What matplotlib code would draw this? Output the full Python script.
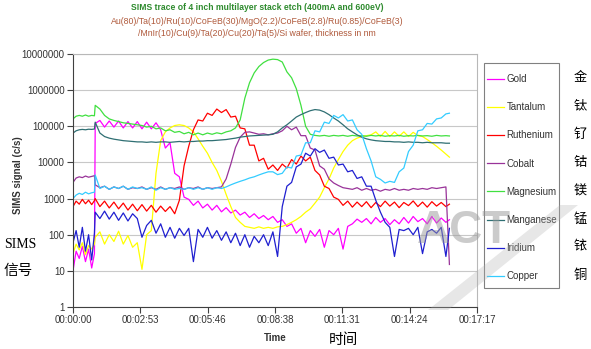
import matplotlib
matplotlib.use("Agg")
import matplotlib.pyplot as plt
import matplotlib.patches as mpatches
from matplotlib.ticker import FuncFormatter, NullLocator
import numpy as np

plt.rcParams["font.family"] = ["Liberation Sans", "DejaVu Sans"]

# --- sampling times (s) ---
time_s = np.r_[np.arange(0, 56, 8), 55, np.arange(57, 958, 12), 966]

# --- SIMS counts (c/s) ---
gold = [10, 35, 22, 48, 18, 40, 12, 30,
        1.2e5, 1.45e5, 9.5e4, 1.4e5, 9.5e4, 1.4e5, 9e4, 1.35e5, 9e4, 1.35e5,
        8.5e4, 1.3e5, 8.5e4, 1.25e5, 8e4, 2.5e4, 3.5e4, 5e3, 4e3, 1.1e3,
        950, 650, 850, 550, 700, 480, 650, 430, 560, 400,
        480, 350, 420, 300, 380, 280, 340, 260, 320, 220,
        260, 170, 200, 110, 150, 60, 130, 90, 140, 45,
        130, 100, 150, 40, 170, 200, 270, 220, 280, 200,
        300, 220, 280, 190, 260, 200, 300, 210, 320, 230,
        280, 200, 320, 210, 290, 220, 260]
tantalum = [30, 55, 38, 60, 28, 50, 40, 55,
            85, 120, 55, 100, 65, 125, 55, 95, 45, 60,
            11, 100, 130, 5e3, 4e4, 7e4, 9e4, 1.05e5, 1.1e5, 1.05e5,
            9e4, 7e4, 4.5e4, 2.8e4, 1.8e4, 1e4, 6e3, 3e3, 1.3e3, 600,
            300, 220, 170, 160, 150, 165, 150, 160, 150, 165,
            170, 190, 220, 260, 320, 420, 520, 750, 1.1e3, 2e3,
            3.5e3, 7e3, 1.2e4, 2e4, 3e4, 4e4, 4.7e4, 5.2e4, 5.5e4, 5.8e4,
            7e4, 5.2e4, 7.2e4, 5.2e4, 7e4, 5.3e4, 7e4, 5.2e4, 6.8e4, 5.5e4,
            5.2e4, 4.3e4, 3.5e4, 2.8e4, 2.2e4, 1.7e4, 1.4e4]
ruthenium = [600, 850, 700, 950, 720, 900, 680, 880,
             1000, 600, 850, 550, 800, 520, 750, 480, 700, 460,
             680, 450, 650, 420, 620, 440, 600, 380, 900, 8e3,
             2.8e4, 8e4, 1.5e5, 1.4e5, 2.3e5, 2e5, 3e5, 2.4e5, 2.9e5, 1.8e5,
             1.9e5, 9e4, 8.5e4, 3e4, 3e4, 1.1e4, 1.3e4, 6.5e3, 8.5e3, 6e3,
             9e3, 7e3, 1.2e4, 9e3, 1.5e4, 1.1e4, 1.4e4, 6e3, 4.5e3, 2.2e3,
             1.9e3, 1.1e3, 950, 650, 850, 580, 800, 600, 820, 560,
             780, 600, 850, 620, 800, 560, 780, 640, 860, 600,
             800, 580, 820, 620, 780, 600, 700]
cobalt = [2.8e3, 3.7e3, 4e3, 3.8e3, 4.2e3, 3.9e3, 4.1e3, 4.3e3,
          2.4e3, 2.0e3, 2.2e3, 1.8e3, 2.1e3, 1.9e3, 2.2e3, 1.8e3, 2.0e3, 1.9e3,
          2.1e3, 1.8e3, 2.0e3, 1.8e3, 2.1e3, 1.8e3, 2.0e3, 1.9e3, 2.1e3, 1.8e3,
          2.0e3, 1.9e3, 2.1e3, 1.8e3, 2.0e3, 1.9e3, 2.0e3, 2.1e3, 3.5e3, 9e3,
          2.6e4, 5e4, 6.8e4, 7e4, 6.5e4, 6e4, 6.2e4, 5.8e4, 6.2e4, 6.5e4,
          7.5e4, 1.0e5, 8e4, 9.5e4, 5.5e4, 5.5e4, 2.5e4, 2.2e4, 8e3, 6.5e3,
          3.5e3, 2.7e3, 2.3e3, 2.0e3, 1.9e3, 1.8e3, 2.0e3, 1.7e3, 1.9e3, 1.7e3,
          1.8e3, 1.6e3, 1.8e3, 1.7e3, 1.9e3, 1.7e3, 1.8e3, 1.7e3, 1.9e3, 1.8e3,
          1.9e3, 1.8e3, 2.0e3, 1.9e3, 2.0e3, 2.1e3, 15]
magnesium = [1.6e5, 1.9e5, 2.0e5, 1.9e5, 2.05e5, 1.9e5, 2.0e5, 1.95e5,
             3.8e5, 3.0e5, 2.0e5, 1.6e5, 1.45e5, 1.35e5, 1.25e5, 1.2e5, 1.15e5, 1.1e5,
             1.05e5, 9.5e4, 1.0e5, 8.5e4, 9e4, 7.5e4, 8e4, 6.8e4, 7.2e4, 6.2e4,
             6.8e4, 5.8e4, 6.5e4, 5.8e4, 6.5e4, 6e4, 6.6e4, 6.2e4, 7e4, 7.5e4,
             9e4, 1.5e5, 6e5, 1.6e6, 3e6, 4.5e6, 5.8e6, 6.8e6, 7.2e6, 7e6,
             6e6, 3.2e6, 2.2e6, 1.1e6, 3.8e5, 1e5, 6e4, 5.6e4, 5.4e4, 5.6e4,
             5.3e4, 5.6e4, 5.4e4, 5.6e4, 5.3e4, 5.6e4, 5.4e4, 5.5e4, 5.3e4, 5.6e4,
             5.4e4, 5.6e4, 5.3e4, 5.5e4, 5.4e4, 5.6e4, 5.3e4, 5.5e4, 5.4e4, 5.6e4,
             5.4e4, 5.5e4, 5.3e4, 5.6e4, 5.4e4, 5.5e4, 5.4e4]
manganese = [6.5e4, 7.5e4, 8e4, 8.2e4, 8e4, 8.3e4, 8.2e4, 8.4e4,
             1.3e5, 6.5e4, 5.2e4, 4.7e4, 4.4e4, 4.2e4, 4.0e4, 3.9e4, 3.8e4, 3.7e4,
             3.7e4, 3.6e4, 3.7e4, 3.6e4, 3.7e4, 3.7e4, 3.6e4, 3.7e4, 3.8e4, 3.7e4,
             3.8e4, 3.8e4, 3.9e4, 3.9e4, 4e4, 4e4, 4.1e4, 4.2e4, 4.3e4, 4.5e4,
             4.7e4, 5e4, 5.2e4, 5.4e4, 5.5e4, 5.6e4, 5.7e4, 5.8e4, 6e4, 7e4,
             9e4, 1.1e5, 1.4e5, 1.8e5, 2.1e5, 2.4e5, 2.7e5, 2.9e5, 2.8e5, 2.5e5,
             2.1e5, 1.7e5, 1.4e5, 1.1e5, 8.5e4, 7e4, 5.8e4, 5e4, 4.5e4, 4.2e4,
             4e4, 3.9e4, 3.8e4, 3.8e4, 3.7e4, 3.7e4, 3.6e4, 3.7e4, 3.6e4, 3.6e4,
             3.5e4, 3.6e4, 3.5e4, 3.5e4, 3.5e4, 3.4e4, 3.4e4]
iridium = [60, 130, 45, 160, 35, 100, 20, 110,
           420, 280, 450, 270, 420, 250, 400, 240, 380, 280,
           85, 180, 250, 110, 200, 85, 160, 80, 150, 95,
           150, 18, 140, 85, 160, 80, 130, 70, 120, 60,
           110, 50, 100, 45, 90, 60, 100, 50, 120, 25,
           600, 2.2e3, 2.8e3, 7.5e3, 9e3, 1.8e4, 1.5e4, 2.4e4, 1.9e4, 2.2e4,
           1.3e4, 1.4e4, 8.5e3, 9e3, 5.5e3, 6e3, 3.6e3, 4e3, 2.2e3, 2.2e3,
           900, 420, 220, 160, 25, 140, 130, 150, 100, 160,
           30, 120, 140, 110, 160, 25, 150]
copper = [1.0e3, 1.25e3, 1.4e3, 1.3e3, 1.5e3, 1.35e3, 1.45e3, 1.5e3,
          4.5e3, 1.9e3, 2.2e3, 1.8e3, 2.1e3, 1.9e3, 2.2e3, 1.8e3, 2.1e3, 1.9e3,
          2.0e3, 1.8e3, 2.1e3, 1.7e3, 2.0e3, 1.8e3, 2.0e3, 1.8e3, 1.9e3, 1.8e3,
          2.0e3, 1.8e3, 2.0e3, 1.8e3, 2.0e3, 1.8e3, 2.0e3, 1.9e3, 2.1e3, 2.4e3,
          2.7e3, 3.0e3, 3.3e3, 3.7e3, 4.0e3, 4.5e3, 5.0e3, 5.5e3, 5.5e3, 4.6e3,
          5e3, 7.5e3, 7e3, 1.5e4, 1.6e4, 3.5e4, 3.5e4, 7.5e4, 7e4, 1.3e5,
          1.2e5, 2e5, 1.7e5, 2.1e5, 1.4e5, 1.5e5, 8e4, 6e4, 2.4e4, 1.1e4,
          4e3, 3.4e3, 2.7e3, 3e3, 2.8e3, 5.5e3, 7e3, 2e4, 3e4, 7.5e4,
          8e4, 1.2e5, 1.15e5, 1.6e5, 1.7e5, 2.2e5, 2.3e5]

labels = ["Gold", "Tantalum", "Ruthenium", "Cobalt",
          "Magnesium", "Manganese", "Iridium", "Copper"]
labels_cn = ["金", "钛", "钌", "钴", "镁", "锰", "铱", "铜"]
series = [gold, tantalum, ruthenium, cobalt, magnesium, manganese, iridium, copper]
colors = ["#ff00ff", "#ffff00", "#ff0000", "#993399",
          "#40e040", "#2f6f73", "#1f1fd0", "#33ccff"]

xtick_s = [0, 172.8, 345.6, 518.4, 691.2, 864, 1036.8]
xtick_labels = ["00:00:00", "00:02:53", "00:05:46", "00:08:38",
                "00:11:31", "00:14:24", "00:17:17"]
ytick_vals = [1, 10, 100, 1000, 10000, 100000, 1000000, 10000000]

W, H = 591, 349
fig = plt.figure(figsize=(W / 100, H / 100), dpi=100)
fig.patch.set_facecolor("white")
ax = fig.add_axes([73 / W, 42 / H, 404 / W, 253 / H])

lines = []
for vals, lab, col in zip(series, labels, colors):
    ln, = ax.plot(time_s, vals, color=col, lw=0.9, label=lab)
    lines.append(ln)

ax.set_yscale("log")
ax.set_ylim(1, 1e7)
ax.set_xlim(0, 1036.8)
ax.set_yticks(ytick_vals)
ax.yaxis.set_major_formatter(FuncFormatter(lambda v, p: f"{v:.0f}"))
ax.yaxis.set_minor_locator(NullLocator())
ax.set_xticks(xtick_s)
ax.set_xticklabels(xtick_labels)
ax.yaxis.grid(True, color="#c8c8c8", lw=0.8)
ax.set_axisbelow(True)
ax.tick_params(direction="out", length=4, width=0.8, labelsize=7,
               colors="#404040", labelcolor="#333333", pad=2)
for s in ["left", "bottom"]:
    ax.spines[s].set_color("#404040")
    ax.spines[s].set_linewidth(0.8)
for s in ["top", "right"]:
    ax.spines[s].set_color("#b8b8b8")
    ax.spines[s].set_linewidth(0.8)

# titles
fig.text(257 / W, 1 - 8 / H,
         "SIMS trace of 4 inch multilayer stack etch (400mA and 600eV)",
         ha="center", va="center", fontsize=6.2, fontweight="bold", color="#2e8b2e")
fig.text(257 / W, 1 - 21 / H,
         "Au(80)/Ta(10)/Ru(10)/CoFeB(30)/MgO(2.2)/CoFeB(2.8)/Ru(0.85)/CoFeB(3)",
         ha="center", va="center", fontsize=6.3, color="#b05a3c")
fig.text(257 / W, 1 - 34 / H,
         "/MnIr(10)/Cu(9)/Ta(20)/Cu(20)/Ta(5)/Si wafer, thickness in nm",
         ha="center", va="center", fontsize=6.3, color="#b05a3c")

fig.text(18 / W, 1 - 175 / H, "SIMS signal (c/s)", rotation=90,
         ha="center", va="center", fontsize=7, fontweight="bold", color="#333333")
fig.text(275 / W, 1 - 338 / H, "Time", ha="center", va="center",
         fontsize=7, fontweight="bold", color="#333333")

# Chinese annotations
cn = ["Noto Sans CJK SC", "DejaVu Sans"]
fig.text(4 / W, 1 - 245 / H, "SIMS", ha="left", va="center",
         fontsize=10, family=["Liberation Serif"], color="black")
fig.text(4 / W, 1 - 271 / H, "信号", ha="left", va="center",
         fontsize=10.5, family=cn, color="black")
fig.text(343 / W, 1 - 340 / H, "时间", ha="center", va="center",
         fontsize=10.5, family=cn, color="black")
for i, c in enumerate(labels_cn):
    fig.text(580 / W, 1 - (78 + i * 28.2) / H, c, ha="center", va="center",
             fontsize=9.5, family=cn, color="black")

# legend box drawn by hand, entries by the legend
frame = mpatches.Rectangle((484 / W, 1 - 288 / H), 75 / W, 225 / H,
                           transform=fig.transFigure, facecolor="white",
                           edgecolor="#808080", lw=0.8, zorder=3)
fig.patches.append(frame)
leg = fig.legend(handles=lines, loc="upper left",
                 bbox_to_anchor=(487 / W, 1 - 74 / H), borderaxespad=0,
                 fontsize=7, frameon=False, handlelength=1.75,
                 handletextpad=0.25, labelspacing=1.87, borderpad=0)
leg.set_zorder(4)
for t in leg.get_texts():
    t.set_color("#333333")

# faint "ACT" watermark
fig.text(417 / W, 1 - 243 / H, "ACT", ha="left", va="baseline", fontsize=33,
         fontweight="bold", color="#999999", alpha=0.5, zorder=10)
wedge = mpatches.Polygon([(428 / W, 1 - 310 / H), (560 / W, 1 - 205 / H),
                          (578 / W, 1 - 205 / H), (448 / W, 1 - 310 / H)],
                         closed=True, transform=fig.transFigure,
                         facecolor="#b0b0b0", alpha=0.3, edgecolor="none", zorder=10)
fig.patches.append(wedge)

fig.savefig("out.png", dpi=100, facecolor="white")
plt.close(fig)
